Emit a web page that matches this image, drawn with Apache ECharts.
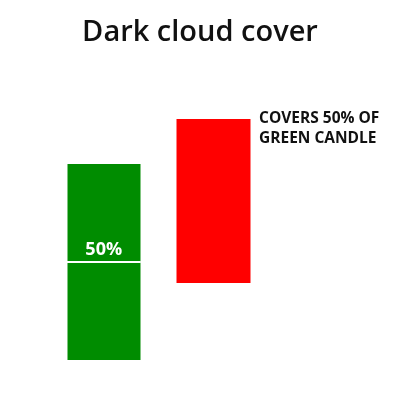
<!DOCTYPE html>
<html><head><meta charset="utf-8">
<script src="https://cdn.jsdelivr.net/npm/echarts@6/dist/echarts.min.js"></script>
<style>html,body{margin:0;padding:0;background:#fff}#c{width:400px;height:400px}</style>
</head><body><div id="c"></div>
<script>
const categories = ['Day 1', 'Day 2'];
// [open, close, low, high]
const candles = [[10, 59, 10, 59], [70.25, 29.25, 29.25, 70.25]];
const midValue = [34.5];
const midLabel = '50%';
const titleText = 'Dark cloud cover';
const noteLines = ['COVERS 50% OF', 'GREEN CANDLE'];

const chart = echarts.init(document.getElementById('c'));
chart.setOption({
  animation: false,
  backgroundColor: '#fff',
  title: {
    text: titleText, left: 'center', top: 13,
    textStyle: { fontFamily: 'Open Sans', fontSize: 29, fontWeight: 600, color: '#111' }
  },
  grid: { left: 49, width: 219, top: 0, height: 400 },
  xAxis: { type: 'category', data: categories, show: false },
  yAxis: { type: 'value', min: 0, max: 100, show: false },
  graphic: [{
    type: 'text', left: 259, top: 109,
    style: { text: noteLines.join('\n'), font: 'bold 15.5px "Open Sans"', fill: '#111', lineHeight: 20 }
  }],
  series: [{
    type: 'candlestick',
    data: candles,
    barWidth: 74,
    itemStyle: { color: '#008c00', color0: '#ff0000', borderColor: '#008c00', borderColor0: '#ff0000', borderWidth: 0 }
  }, {
    type: 'custom',
    z: 10,
    encode: { x: 0, y: 1 },
    data: midValue.map(v => [0, v]),
    renderItem: function (params, api) {
      const p = api.coord([api.value(0), api.value(1)]);
      const w = 74;
      return {
        type: 'group',
        children: [{
          type: 'line',
          shape: { x1: p[0] - w / 2, y1: p[1], x2: p[0] + w / 2, y2: p[1] },
          style: { stroke: '#ffffff', lineWidth: 2 }
        }, {
          type: 'text',
          style: { x: p[0], y: p[1] - 3, text: midLabel, align: 'center', verticalAlign: 'bottom',
            font: 'bold 18px "Open Sans"', fill: '#ffffff' }
        }]
      };
    }
  }]
});
</script></body></html>
